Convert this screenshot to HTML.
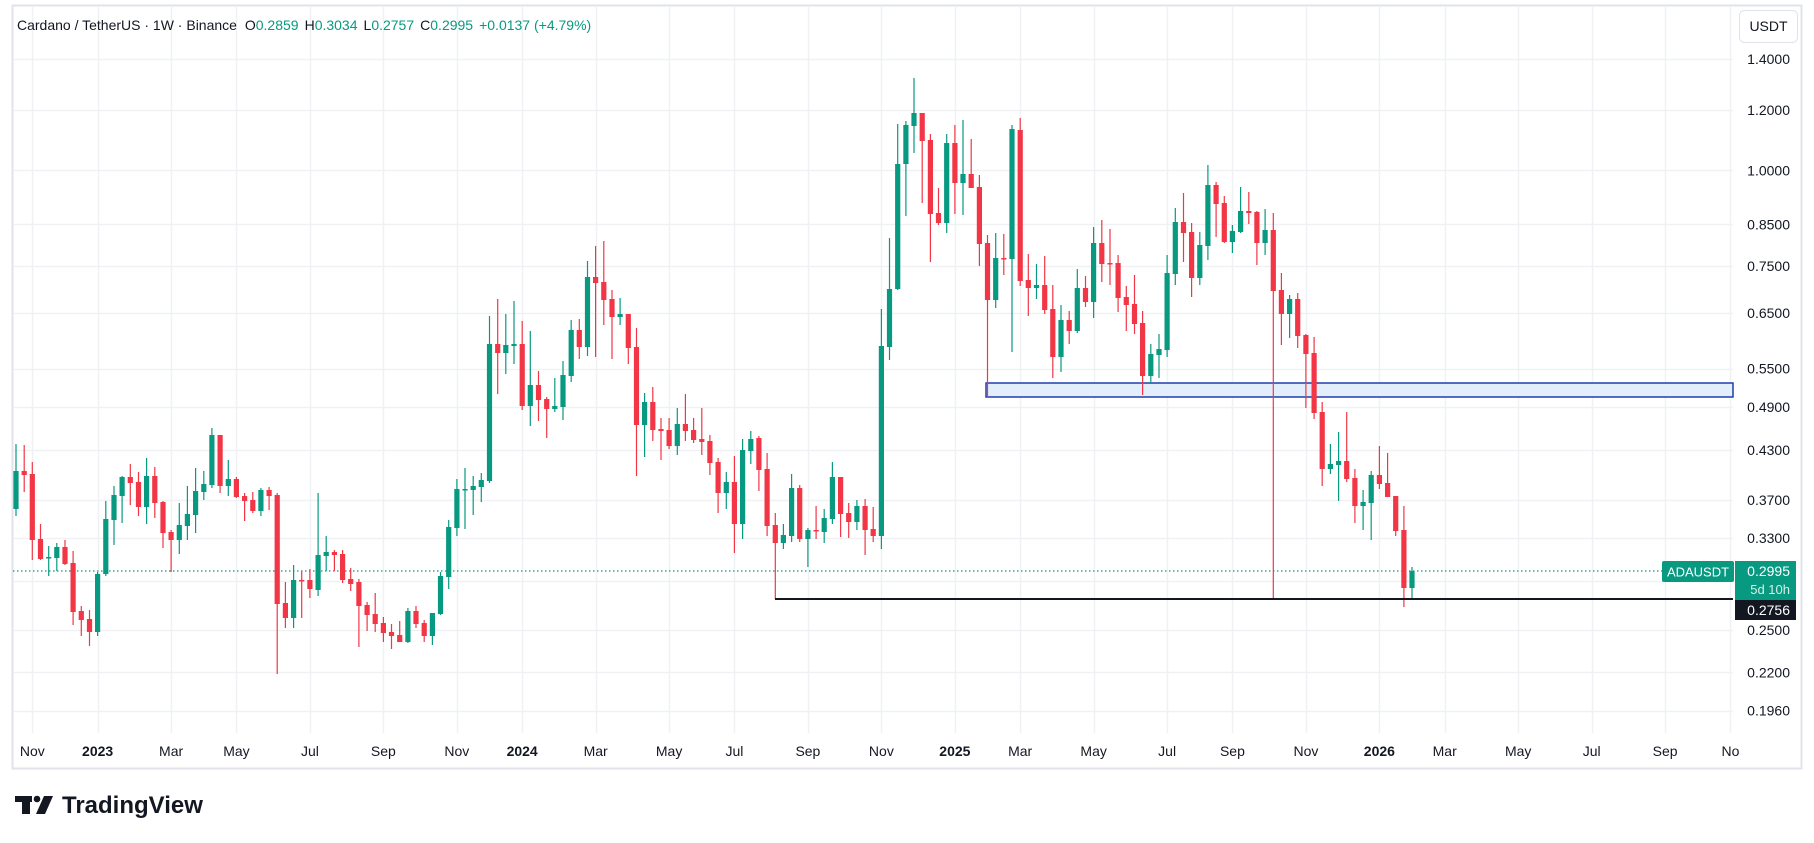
<!DOCTYPE html>
<html><head><meta charset="utf-8"><style>
html,body{margin:0;padding:0;background:#fff;width:1814px;height:843px;overflow:hidden;font-family:"Liberation Sans",sans-serif;}
svg{position:absolute;left:0;top:0}
</style></head><body>
<svg id="s" width="1814" height="843" xmlns="http://www.w3.org/2000/svg"></svg>
<script>
const C=[
[509,471,444,516],[471,475,445,492],[474,540,462,560],[539,559,524,560],[557,557,546,576],[558,547,543,571],[547,564,540,565],[563,612,551,625],[611,620,606,636],[619,632,610,646],
[632,574,572,636],[574,519,501,576],[520,495,486,545],[496,477,476,523],[477,483,464,505],[482,507,472,516],[507,476,458,524],[476,503,467,518],[502,533,501,548],[532,540,530,572],
[540,525,503,554],[526,514,486,540],[515,491,468,533],[492,484,471,500],[485,435,428,488],[435,486,435,493],[486,479,460,496],[479,497,477,498],[496,501,493,521],[500,511,492,513],
[511,490,488,516],[490,496,487,510],[495,604,493,674],[603,618,582,628],[618,580,565,628],[580,580,571,618],[580,589,569,598],[590,555,493,596],[556,552,536,571],[552,555,550,571],
[554,580,550,583],[579,584,568,591],[582,606,579,647],[605,615,602,631],[614,624,593,632],[623,633,617,642],[632,636,624,649],[635,642,621,642],[642,611,608,643],[611,624,606,628],
[623,636,620,642],[636,613,613,645],[614,576,572,615],[577,527,520,589],[528,489,479,536],[489,489,468,529],[490,486,476,515],[487,480,473,502],[481,344,316,483],[344,353,299,394],
[353,345,314,374],[346,344,301,364],[344,406,321,410],[406,385,331,426],[385,400,371,421],[399,409,397,438],[409,406,378,412],[407,375,361,420],[376,330,320,382],[330,347,319,359],
[347,277,261,356],[277,283,246,357],[282,300,241,325],[299,317,290,359],[317,314,298,325],[314,348,314,364],[347,425,328,476],[425,402,393,457],[402,430,387,441],[429,431,418,460],
[430,446,418,449],[446,424,408,455],[424,431,394,441],[430,440,418,443],[439,442,408,455],[441,463,435,475],[462,493,458,513],[493,482,472,509],[482,524,456,553],[524,450,439,539],
[451,439,431,464],[438,470,436,491],[469,526,453,536],[525,543,513,599],[543,535,524,549],[536,488,474,542],[488,539,485,542],[539,530,528,567],[530,531,506,539],[532,518,509,543],
[519,477,462,524],[477,514,477,537],[513,522,503,538],[522,506,500,530],[506,530,499,555],[529,536,507,542],[536,346,309,549],[347,289,238,360],[289,164,124,290],[164,125,121,216],
[126,113,78,153],[113,141,113,203],[140,214,134,262],[213,223,188,225],[223,143,134,233],[143,183,125,214],[183,174,120,215],[174,188,139,188],[187,244,175,266],[243,300,235,397],
[300,258,233,308],[258,258,234,275],[259,129,125,352],[130,281,118,286],[280,288,254,316],[288,285,264,299],[285,310,256,314],[309,357,285,378],[357,320,305,372],[320,331,311,344],
[331,288,269,333],[288,302,276,307],[302,243,227,318],[243,264,220,282],[263,263,229,285],[263,298,255,312],[297,305,286,331],[304,324,275,334],[323,376,311,395],[376,354,344,383],
[355,349,334,378],[350,273,255,357],[274,222,208,285],[222,233,193,262],[232,278,223,297],[278,245,232,285],[246,185,165,260],[185,204,182,237],[203,242,196,243],[242,231,225,253],
[232,211,187,233],[211,213,192,224],[212,243,211,265],[243,230,209,255],[230,291,213,599],[290,314,273,345],[314,299,295,338],[299,336,293,348],[335,354,334,408],[353,413,337,419],
[412,469,402,486],[469,464,444,474],[465,461,432,501],[461,479,412,482],[478,506,469,523],[506,502,490,530],[503,475,471,540],[475,484,446,489],[483,497,453,497],[496,531,496,536],
[530,588,506,607],[588,571,567,599]
];
const s=document.getElementById('s');let h='';
const Y=p=>630-331.5*Math.log(p/0.25);
const X=i=>16+i*8.164;
// frame
h+='<rect x="12.5" y="5.5" width="1789" height="763" fill="none" stroke="#e0e3eb" stroke-width="2"/>';
// horizontal grid
const P=[1.4,1.2,1.0,0.85,0.75,0.65,0.55,0.49,0.43,0.37,0.33,0.29,0.25,0.22,0.196];
P.forEach(p=>{const y=Math.round(Y(p))+0.5;h+=`<line x1="13" x2="1733" y1="${y}" y2="${y}" stroke="#f0f1f4" stroke-width="1.5"/>`;});
// time labels
const labs=[];const start=Date.UTC(2022,9,31);
const names=['Jan','Feb','Mar','Apr','May','Jun','Jul','Aug','Sep','Oct','Nov','Dec'];
for(let y=2022;y<=2026;y++)for(let m=0;m<12;m++){if(y==2022&&m<10)continue;if(y==2026&&m>10)continue;
 if(m%2==1)continue; // odd months skipped? keep Jan,Mar,May,Jul,Sep,Nov
 let d=Date.UTC(y,m,1);let dow=new Date(d).getUTCDay();let add=(8-dow)%7;d+=add*864e5;
 let i=Math.round((d-start)/(7*864e5))+1;let x=X(i);
 labs.push([x,m==0?String(y):names[m],m==0]);}
labs.forEach(l=>{if(l[0]>1733)return;const x=Math.round(l[0])+0.5;h+=`<line x1="${x}" x2="${x}" y1="6" y2="733" stroke="#f0f1f4" stroke-width="1.5"/>`;});
labs.forEach(l=>{if(l[0]>1733)return;let t=l[1];if(l[0]>1715)t='No';
 h+=`<text x="${l[0]}" y="756" font-size="14" text-anchor="middle" fill="#131722" ${l[2]?'font-weight="bold"':''}>${t}</text>`;});
// box
h+=`<rect x="986" y="383" width="747" height="14" fill="#e3eefd" stroke="#1e3fae" stroke-width="1.5"/>`;
// dotted
h+=`<line x1="13" x2="1733" y1="571" y2="571" stroke="#089981" stroke-width="1.3" stroke-dasharray="1.5 2.5"/>`;
// candles
C.forEach((c,i)=>{const x=X(i);const g=c[1]<c[0]||(c[1]==c[0]&&[4,5,55].includes(i));const col=g?'#089981':'#f23645';
 const top=Math.min(c[0],c[1]),bh=Math.max(1.5,Math.abs(c[0]-c[1]));
 h+=`<line x1="${x.toFixed(1)}" x2="${x.toFixed(1)}" y1="${c[2]}" y2="${c[3]}" stroke="${col}" stroke-width="1.2"/>`;
 h+=`<rect x="${(x-2.6).toFixed(1)}" y="${top}" width="5.2" height="${bh}" fill="${col}"/>`;});
// black line
h+=`<line x1="775" x2="1733" y1="599" y2="599" stroke="#131722" stroke-width="2"/>`;
// price labels
P.forEach(p=>{if(p==0.29)return;h+=`<text x="1790" y="${Y(p)+5}" font-size="14" text-anchor="end" fill="#131722">${p.toFixed(4)}</text>`;});
// overlays
h+=`<rect x="1662" y="561" width="72" height="21" rx="2" fill="#089981"/><text x="1698" y="576.5" font-size="13" text-anchor="middle" fill="#fff">ADAUSDT</text>`;
h+=`<rect x="1735" y="561" width="61" height="39" fill="#089981"/><text x="1790" y="576" font-size="14" text-anchor="end" fill="#fff">0.2995</text><text x="1790" y="594" font-size="13" text-anchor="end" fill="#d4f1ea">5d 10h</text>`;
h+=`<rect x="1735" y="600" width="61" height="20" fill="#131722"/><text x="1790" y="615" font-size="14" text-anchor="end" fill="#fff">0.2756</text>`;
// USDT button
h+=`<rect x="1739.5" y="10.5" width="58" height="32" rx="5" fill="#fff" stroke="#e0e3eb"/><text x="1768.5" y="31" font-size="14" text-anchor="middle" fill="#131722">USDT</text>`;
// header
h+=`<text x="17" y="30" font-size="14" fill="#131722">Cardano / TetherUS · 1W · Binance  <tspan dx="4">O</tspan><tspan fill="#089981">0.2859</tspan><tspan dx="6">H</tspan><tspan fill="#089981">0.3034</tspan><tspan dx="6">L</tspan><tspan fill="#089981">0.2757</tspan><tspan dx="6">C</tspan><tspan fill="#089981">0.2995</tspan><tspan dx="6" fill="#089981">+0.0137 (+4.79%)</tspan></text>`;
// logo
h+=`<rect x="15" y="796" width="17" height="6" fill="#131722"/><rect x="22" y="796" width="8" height="18" fill="#131722"/><circle cx="37" cy="799" r="3.3" fill="#131722"/><polygon points="44,796 53,796 45,814 36,814" fill="#131722"/>`;
h+=`<text x="62" y="813" font-size="24" font-weight="bold" fill="#131722">TradingView</text>`;
s.innerHTML=h;
</script>
</body></html>
